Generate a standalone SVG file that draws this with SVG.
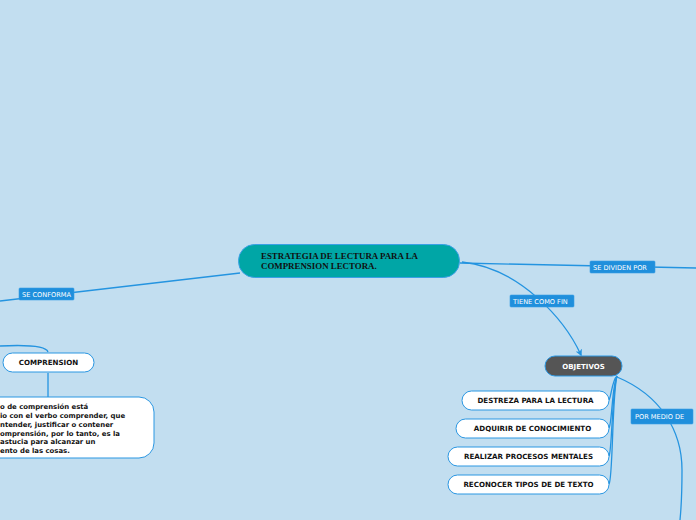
<svg xmlns="http://www.w3.org/2000/svg" width="696" height="520" viewBox="0 0 696 520">
<style>
.bg{fill:#c2def0}
.edge{fill:none;stroke:#2494e0;stroke-width:1.3}
.lbl rect{fill:#1f8fdc;stroke:#3aa0e6;stroke-width:0.6}
.lbl text{fill:#ffffff;font-family:"DejaVu Sans",sans-serif;font-size:6.6px}
.wbox{fill:#ffffff;stroke:#2b97e2;stroke-width:1}
.wtxt{fill:#111;font-family:"DejaVu Sans",sans-serif;font-size:7.1px;font-weight:bold}
.ptxt{fill:#111;font-family:"DejaVu Sans",sans-serif;font-size:6.9px;font-weight:bold}
</style>
<defs>
<marker id="arr" viewBox="0 0 10 10" refX="8" refY="5" markerWidth="7" markerHeight="7" orient="auto-start-reverse" markerUnits="userSpaceOnUse">
<path d="M0,0 L10,5 L0,10 L3,5 Z" fill="#2494e0"/>
</marker>
</defs>
<rect class="bg" x="0" y="0" width="696" height="520"/>
<g id="connectors">
<path class="edge" d="M240,273 L0,301"/>
<path class="edge" d="M460,263 L696,268"/>
<path class="edge" d="M462,262 C520,268 565,320 581,355" marker-end="url(#arr)"/>
<path class="edge" d="M48,352 C46,345 20,345 0,346"/>
<path class="edge" d="M48,373 L48,397"/>
<path class="edge" d="M617,376 C612,380 611,398 609,400"/>
<path class="edge" d="M617,376 C612,385 612,424 609,428"/>
<path class="edge" d="M617,376 C612,390 612,452 609,456"/>
<path class="edge" d="M617,376 C612,395 613,480 609,484"/>
<path class="edge" d="M617,377 C660,395 682,430 682,470 C682,495 681,510 680,520"/>
</g>
<g id="lbl-se-conforma" class="lbl"><rect x="19" y="288" width="55" height="12" rx="1"/><text x="22" y="296.5">SE CONFORMA</text></g>
<g id="lbl-se-dividen" class="lbl"><rect x="590" y="261" width="65" height="12" rx="1"/><text x="593" y="269.5">SE DIVIDEN POR</text></g>
<g id="lbl-tiene" class="lbl"><rect x="510" y="295" width="64" height="12" rx="1"/><text x="513" y="303.5">TIENE COMO FIN</text></g>
<g id="lbl-por-medio" class="lbl"><rect x="631" y="409" width="62" height="15" rx="1"/><text x="635" y="419">POR MEDIO DE</text></g>
<g id="central">
<rect x="238.5" y="244.5" width="221" height="33" rx="16" fill="#00a6a6" stroke="#3aa0e6" stroke-width="1"/>
<text x="261" y="259" fill="#111" font-family="Liberation Serif, serif" font-size="8.9" font-weight="bold">ESTRATEGIA DE LECTURA PARA LA</text>
<text x="261" y="269" fill="#111" font-family="Liberation Serif, serif" font-size="8.9" font-weight="bold">COMPRENSION LECTORA.</text>
</g>
<g id="objetivos">
<rect x="545" y="356" width="77" height="20" rx="10" fill="#555555" stroke="#2b97e2" stroke-width="1"/>
<text x="583.5" y="369" text-anchor="middle" fill="#ffffff" font-family="DejaVu Sans, sans-serif" font-size="7" font-weight="bold">OBJETIVOS</text>
</g>
<g id="destreza"><rect class="wbox" x="462" y="391" width="147" height="19" rx="9.5"/><text class="wtxt" x="535.5" y="403" text-anchor="middle">DESTREZA PARA LA LECTURA</text></g>
<g id="adquirir"><rect class="wbox" x="456" y="419" width="153" height="19" rx="9.5"/><text class="wtxt" x="532.5" y="431" text-anchor="middle">ADQUIRIR DE CONOCIMIENTO</text></g>
<g id="realizar"><rect class="wbox" x="448" y="447" width="161" height="19" rx="9.5"/><text class="wtxt" x="528.5" y="459" text-anchor="middle">REALIZAR PROCESOS MENTALES</text></g>
<g id="reconocer"><rect class="wbox" x="448" y="475" width="161" height="19" rx="9.5"/><text class="wtxt" x="528.5" y="487" text-anchor="middle">RECONOCER TIPOS DE DE TEXTO</text></g>
<g id="comprension"><rect class="wbox" x="3" y="353" width="91" height="19" rx="9.5"/><text class="wtxt" x="48.5" y="365" text-anchor="middle">COMPRENSION</text></g>
<g id="definicion">
<rect class="wbox" x="-30" y="397" width="184" height="61" rx="15"/>
<text class="ptxt" x="0" y="409">o de comprensión está</text>
<text class="ptxt" x="0" y="418">io con el verbo comprender, que</text>
<text class="ptxt" x="0" y="427">ntender, justificar o contener</text>
<text class="ptxt" x="0" y="436">omprensión, por lo tanto, es la</text>
<text class="ptxt" x="0" y="444">astucia para alcanzar un</text>
<text class="ptxt" x="0" y="453">ento de las cosas.</text>
</g>
</svg>
